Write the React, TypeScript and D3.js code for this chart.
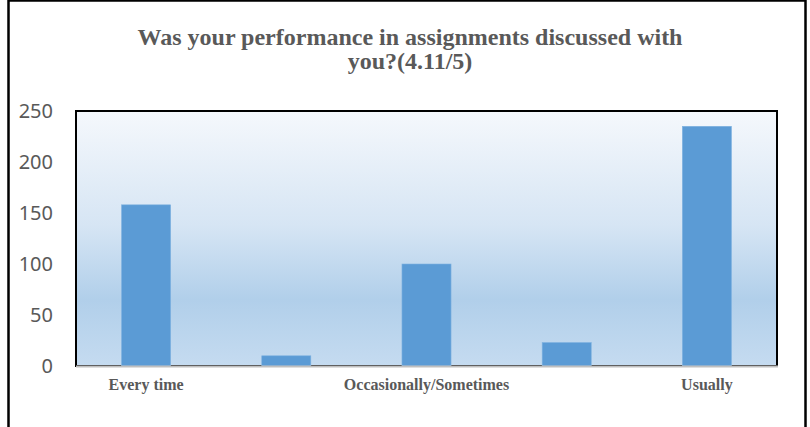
import React from 'react';
import { scaleBand, scaleLinear } from 'd3';

const categories = ['Every time', 'Never', 'Occasionally/Sometimes', 'Rarely', 'Usually'];
const counts = [158, 10, 100, 23, 235];
const yTicks = [0, 50, 100, 150, 200, 250];
const titleLines = ['Was your performance in assignments discussed with', 'you?(4.11/5)'];

const W = 810;
const H = 427;
const plot = { left: 76, top: 111, right: 777, bottom: 366 };

const App = () => {
  const xScale = scaleBand<string>()
    .domain(categories)
    .range([plot.left, plot.right])
    .paddingInner(0.65)
    .paddingOuter(0.325);

  const yScale = scaleLinear()
    .domain([0, 250])
    .range([plot.bottom, plot.top]);

  return (
    <svg width={W} height={H} style={{ position: 'absolute', left: 0, top: 0, background: '#fff' }}>
      <defs>
        <linearGradient id="plotBg" x1="0" y1="0" x2="0" y2="1">
          <stop offset="0%" stopColor="#F5F8FC" />
          <stop offset="45%" stopColor="#D6E5F4" />
          <stop offset="74%" stopColor="#B1CFEA" />
          <stop offset="100%" stopColor="#C5DBF0" />
        </linearGradient>
      </defs>

      {/* outer frame */}
      <rect x={8.5} y={0.5} width={797} height={H + 10} fill="none" stroke="#000" strokeWidth={2.5} />

      {/* title */}
      <text
        textAnchor="middle"
        fill="#595959"
        fontFamily="'Liberation Serif', 'Times New Roman', serif"
        fontWeight="bold"
        fontSize={24}
      >
        {titleLines.map((line, i) => (
          <tspan key={i} x={410} y={45 + i * 24}>{line}</tspan>
        ))}
      </text>

      {/* plot background */}
      <rect
        x={plot.left}
        y={plot.top}
        width={plot.right - plot.left}
        height={plot.bottom - plot.top}
        fill="url(#plotBg)"
        stroke="#000"
        strokeWidth={2}
      />

      {/* bars */}
      {categories.map((c, i) => (
        <rect
          key={c}
          x={xScale(c)}
          y={yScale(counts[i])}
          width={xScale.bandwidth()}
          height={plot.bottom - yScale(counts[i])}
          fill="#5B9BD5"
          stroke="#7FB2E0"
          strokeWidth={0.6}
        />
      ))}

      {/* x axis line */}
      <line x1={plot.left} x2={plot.right + 1} y1={plot.bottom + 0.5} y2={plot.bottom + 0.5} stroke="#BFBFBF" strokeWidth={2} />

      {/* y tick labels */}
      {yTicks.map(t => (
        <text
          key={t}
          x={53}
          y={yScale(t)}
          dy="0.36em"
          textAnchor="end"
          fill="#595959"
          fontFamily="'Noto Sans', sans-serif"
          fontSize={20}
        >
          {t}
        </text>
      ))}

      {/* x labels: every other category shown, as in the original */}
      {categories.map((c, i) =>
        i % 2 === 0 ? (
          <text
            key={c}
            x={(xScale(c) ?? 0) + xScale.bandwidth() / 2}
            y={390}
            textAnchor="middle"
            fill="#595959"
            fontFamily="'Liberation Serif', 'Times New Roman', serif"
            fontWeight="bold"
            fontSize={16}
          >
            {c}
          </text>
        ) : null
      )}
    </svg>
  );
};

export default App;
